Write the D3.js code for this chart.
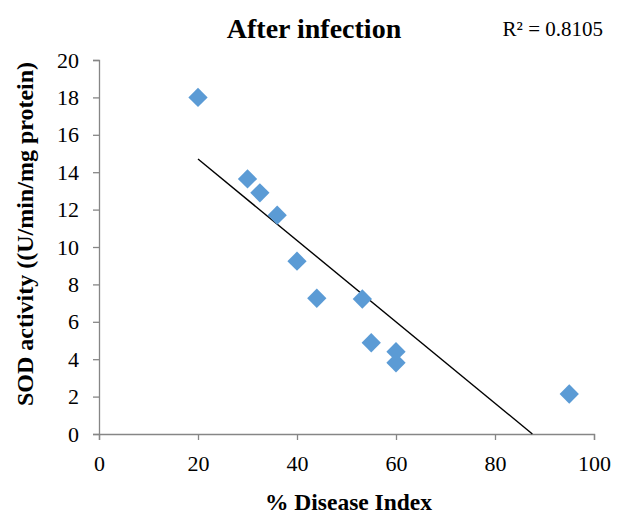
<!DOCTYPE html>
<html>
<head>
<meta charset="utf-8">
<script src="https://cdn.jsdelivr.net/npm/d3@7"></script>
<style>
  body { margin: 0; background: #fff; }
  text { font-family: "Liberation Serif", "Times New Roman", serif; fill: #000; }
</style>
</head>
<body>
<div id="chart"></div>
<script>
// disease index (%) vs SOD activity after infection
var diseaseIndex = [20, 30, 32.5, 36, 40, 44, 53.2, 55, 60, 60, 95];
var sodActivity = [18, 13.64, 12.9, 11.7, 9.24, 7.26, 7.22, 4.88, 4.4, 3.81, 2.14];
var xTicks = [0, 20, 40, 60, 80, 100];
var yTicks = [0, 2, 4, 6, 8, 10, 12, 14, 16, 18, 20];
var r2Label = "R² = 0.8105";

var svgWidth = 619;
var svgHeight = 515;

var chartMargin = {
  top: 60,
  right: 25,
  bottom: 81,
  left: 99
};

var chartWidth = svgWidth - chartMargin.left - chartMargin.right;
var chartHeight = svgHeight - chartMargin.top - chartMargin.bottom;

var svg = d3.select("#chart")
  .append("svg")
  .attr("width", svgWidth)
  .attr("height", svgHeight);

var chartGroup = svg.append("g")
  .attr("transform", `translate(${chartMargin.left}, ${chartMargin.top})`);

var data = diseaseIndex.map((x, i) => ({x: x, y: sodActivity[i]}));

var xScale = d3.scaleLinear().domain([0, 100]).range([0, chartWidth]);
var yScale = d3.scaleLinear().domain([0, 20]).range([chartHeight, 0]);

var xAxis = d3.axisBottom(xScale).tickValues(xTicks).tickSize(6).tickSizeOuter(6);
var yAxis = d3.axisLeft(yScale).tickValues(yTicks).tickSize(6).tickSizeOuter(6).tickPadding(14);

chartGroup.append("g")
  .attr("class", "yaxis")
  .call(yAxis);

chartGroup.append("g")
  .attr("class", "xaxis")
  .attr("transform", `translate(0, ${chartHeight})`)
  .call(xAxis);

chartGroup.selectAll(".domain, .tick line")
  .attr("stroke", "#868686")
  .attr("stroke-width", 1.3);

chartGroup.selectAll(".tick text")
  .attr("font-size", 22)
  .attr("font-family", "Liberation Serif, serif")
  .attr("fill", "#000");

chartGroup.select(".xaxis").selectAll(".tick text")
  .attr("y", 37)
  .attr("dy", 0);

// least squares trendline
var mx = d3.mean(data, d => d.x);
var my = d3.mean(data, d => d.y);
var sxy = d3.sum(data, d => (d.x - mx) * (d.y - my));
var sxx = d3.sum(data, d => (d.x - mx) * (d.x - mx));
var slope = sxy / sxx;
var intercept = my - slope * mx;

var x0 = d3.min(diseaseIndex);
var x1 = Math.min(d3.max(diseaseIndex), -intercept / slope);

chartGroup.append("line")
  .attr("x1", xScale(x0))
  .attr("y1", yScale(intercept + slope * x0))
  .attr("x2", xScale(x1))
  .attr("y2", yScale(intercept + slope * x1))
  .attr("stroke", "#000")
  .attr("stroke-width", 1.4);

var diamond = d3.symbol().type(d3.symbolSquare).size(186);

chartGroup.append("g")
  .selectAll("path")
  .data(data)
  .enter()
  .append("path")
  .attr("d", diamond)
  .attr("transform", d => `translate(${xScale(d.x)}, ${yScale(d.y)}) rotate(45)`)
  .attr("fill", "#5B9BD5");

svg.append("text")
  .attr("x", 314)
  .attr("y", 38)
  .attr("text-anchor", "middle")
  .attr("font-size", 28)
  .attr("font-weight", "bold")
  .text("After infection");

svg.append("text")
  .attr("x", 603)
  .attr("y", 36)
  .attr("text-anchor", "end")
  .attr("font-size", 21)
  .text(r2Label);

svg.append("text")
  .attr("x", chartMargin.left + chartWidth / 2 + 2)
  .attr("y", 510)
  .attr("text-anchor", "middle")
  .attr("font-size", 23.5)
  .attr("font-weight", "bold")
  .text("% Disease Index");

svg.append("text")
  .attr("transform", "translate(33, 234) rotate(-90)")
  .attr("text-anchor", "middle")
  .attr("font-size", 24)
  .attr("font-weight", "bold")
  .text("SOD activity ((U/min/mg protein)");
</script>
</body>
</html>
